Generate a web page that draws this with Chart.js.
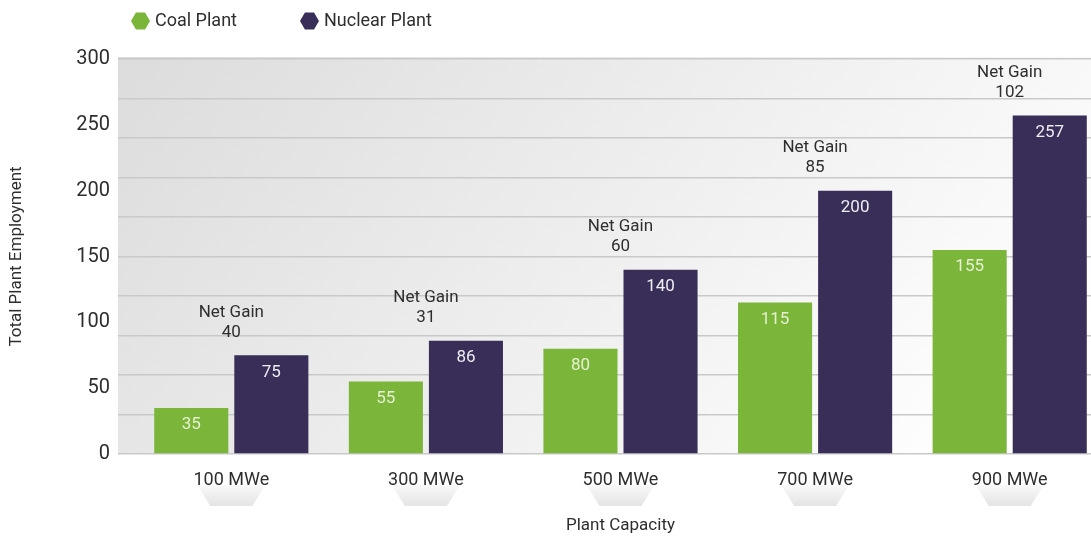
<!DOCTYPE html>
<html><head><meta charset="utf-8">
<script src="https://cdn.jsdelivr.net/npm/chart.js@4"></script>
<style>
html,body{margin:0;padding:0;overflow:hidden;background:#fff}
#wrap{width:1091px;height:537px;overflow:hidden;position:relative}
</style>
</head><body>
<div id="wrap"><canvas id="c" width="1107" height="537" style="width:1107px;height:537px;display:block"></canvas></div>
<script>
const categories = ['100 MWe', '300 MWe', '500 MWe', '700 MWe', '900 MWe'];
const coalPlant = [35, 55, 80, 115, 155];
const nuclearPlant = [75, 86, 140, 200, 257];
const netGain = [40, 31, 60, 85, 102];
const yTickLabels = [0, 50, 100, 150, 200, 250, 300];
const gridStep = 30;

const FONT = "Roboto, 'Noto Sans', sans-serif";
const TEXT = '#2e2e2e';
const GREEN = '#7bb53a';
const PURPLE = '#392e57';

function hexPath(ctx, x, cy, w, h) {
  ctx.beginPath();
  ctx.moveTo(x, cy);
  ctx.lineTo(x + w * 0.26, cy - h / 2);
  ctx.lineTo(x + w * 0.74, cy - h / 2);
  ctx.lineTo(x + w, cy);
  ctx.lineTo(x + w * 0.74, cy + h / 2);
  ctx.lineTo(x + w * 0.26, cy + h / 2);
  ctx.closePath();
}

const decor = {
  id: 'decor',
  beforeDraw(chart) {
    const ctx = chart.ctx, a = chart.chartArea, xs = chart.scales.x;
    ctx.save();
    const g = ctx.createLinearGradient(118, a.top - 2, 820, a.bottom + 200);
    g.addColorStop(0, '#dcdcdc');
    g.addColorStop(1, '#ffffff');
    ctx.fillStyle = g;
    ctx.fillRect(118, a.top - 2, chart.width - 118, a.bottom - a.top + 2);
    categories.forEach((c, i) => {
      const cx = xs.getPixelForValue(i);
      const t = a.bottom + 31, b = a.bottom + 52;
      const tg = ctx.createLinearGradient(0, t, 0, b);
      tg.addColorStop(0, '#f9f9f9');
      tg.addColorStop(1, '#e4e4e4');
      ctx.fillStyle = tg;
      ctx.beginPath();
      ctx.moveTo(cx - 34, t);
      ctx.lineTo(cx + 34, t);
      ctx.lineTo(cx + 21, b);
      ctx.lineTo(cx - 21, b);
      ctx.closePath();
      ctx.fill();
    });
    ctx.restore();
  },
  afterDatasetsDraw(chart) {
    const ctx = chart.ctx;
    const m0 = chart.getDatasetMeta(0), m1 = chart.getDatasetMeta(1);
    ctx.save();
    ctx.textAlign = 'center';
    ctx.textBaseline = 'middle';
    ctx.font = '17px ' + FONT;
    m0.data.forEach((bar, i) => {
      ctx.fillStyle = '#e6f1d2';
      ctx.fillText(String(coalPlant[i]), bar.x, bar.y + 17);
    });
    m1.data.forEach((bar, i) => {
      ctx.fillStyle = '#eeedf3';
      ctx.fillText(String(nuclearPlant[i]), bar.x, bar.y + 17);
      const gx = (m0.data[i].x + bar.x) / 2;
      ctx.fillStyle = TEXT;
      ctx.fillText('Net Gain', gx, bar.y - 43);
      ctx.fillText(String(netGain[i]), gx, bar.y - 23);
    });
    ctx.restore();
  },
  afterDraw(chart) {
    const ctx = chart.ctx;
    ctx.save();
    ctx.font = '18px ' + FONT;
    ctx.textBaseline = 'middle';
    ctx.textAlign = 'left';
    let x = 131;
    const cy = 21;
    chart.data.datasets.forEach(ds => {
      hexPath(ctx, x, cy, 19, 17);
      ctx.fillStyle = ds.backgroundColor;
      ctx.fill();
      ctx.fillStyle = TEXT;
      ctx.fillText(ds.label, x + 24, cy);
      x += 24 + ctx.measureText(ds.label).width + 63;
    });
    ctx.restore();
  }
};

new Chart(document.getElementById('c'), {
  type: 'bar',
  data: {
    labels: categories,
    datasets: [
      { label: 'Coal Plant', data: coalPlant, backgroundColor: GREEN },
      { label: 'Nuclear Plant', data: nuclearPlant, backgroundColor: PURPLE }
    ]
  },
  options: {
    responsive: false,
    animation: false,
    devicePixelRatio: 1,
    layout: { padding: { top: 59, left: 0, right: 0, bottom: 0 } },
    datasets: { bar: { categoryPercentage: 0.823, barPercentage: 0.925 } },
    plugins: { legend: { display: false }, tooltip: { enabled: false } },
    scales: {
      x: {
        grid: { display: false },
        border: { display: false },
        ticks: { color: TEXT, font: { family: FONT, size: 18 }, padding: 8 },
        title: { display: true, text: 'Plant Capacity', color: TEXT, font: { family: FONT, size: 17 }, padding: { top: 0, bottom: 1 } },
        afterFit(s) { s.height = 83; }
      },
      y: {
        min: 0, max: 300,
        ticks: {
          stepSize: 10, autoSkip: false, color: TEXT, padding: 8,
          font: { family: FONT, size: 20 },
          callback: v => yTickLabels.includes(v) ? String(v) : ''
        },
        grid: {
          color: c => (c.tick && c.tick.value % gridStep === 0) ? '#c9c9c9' : 'rgba(0,0,0,0)',
          lineWidth: 1.5, tickLength: 16
        },
        border: { display: false },
        title: { display: true, text: 'Total Plant Employment', color: TEXT, font: { family: FONT, size: 17 }, padding: { top: 7, bottom: 0 } },
        afterFit(s) { s.width = 134; }
      }
    }
  },
  plugins: [decor]
});
</script>
</body></html>
